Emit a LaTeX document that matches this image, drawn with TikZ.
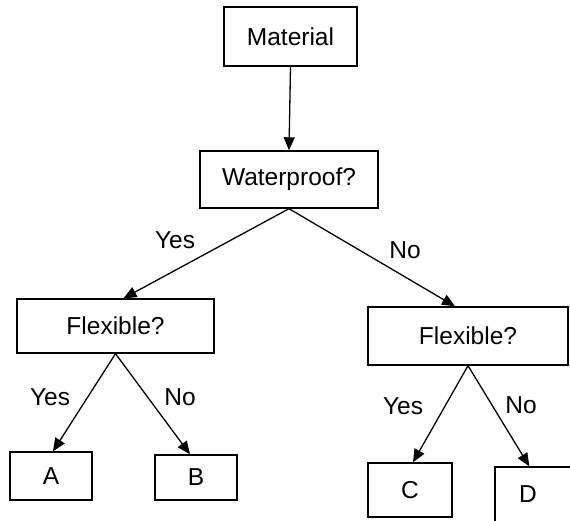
\documentclass[tikz,border=0pt]{standalone}
\usepackage{fontspec}
\setmainfont{Liberation Sans}
\usetikzlibrary{arrows.meta}
\begin{document}
\begin{tikzpicture}[x=1pt,y=-1pt,
  box/.style={draw, line width=1.4pt, rectangle, inner sep=0pt, font=\fontsize{24.5}{28}\selectfont},
  conn/.style={line width=1.3pt, -{Triangle[length=13pt,width=11pt]}},
  lbl/.style={font=\fontsize{24.5}{28}\selectfont, inner sep=0pt}]
\clip (0,0) rectangle (570,521);
\useasboundingbox (0,0) rectangle (570,521);
\fill[white] (0,0) rectangle (570,521);
% boxes
\node[box, minimum width=133pt, minimum height=59pt] (mat) at (290.5,36.5) {Material};
\node[box, minimum width=178pt, minimum height=57pt] (wp) at (289,179.5) {Waterproof?};
\node[box, minimum width=197pt, minimum height=54pt] (fl) at (115.5,326) {Flexible?};
\node[box, minimum width=200pt, minimum height=58pt] (fr) at (468,336) {Flexible?};
\node[box, minimum width=82pt, minimum height=48pt] (A) at (51,476) {A};
\node[box, minimum width=82pt, minimum height=45pt] (B) at (196,477.5) {B};
\node[box, minimum width=84pt, minimum height=54pt] (C) at (410,490) {C};
\node[draw, line width=1.4pt, rectangle, minimum width=110pt, minimum height=100pt, inner sep=0pt] (D) at (550,517) {};
\node[lbl] (Dt) at (528,494) {D};
% connectors
\coordinate (wpo) at ([xshift=0pt]wp.south);
\draw[conn] (mat.south) -- (wp.north);
\draw[conn] (wpo) -- ([xshift=8pt]fl.north);
\draw[conn] (wpo) -- ([xshift=-13pt]fr.north);
\draw[conn] (fl.south) -- ([xshift=2pt]A.north);
\draw[conn] (fl.south) -- ([xshift=-6pt]B.north);
\draw[conn] (fr.south) -- ([xshift=3pt]C.north);
\draw[conn] (fr.south) -- ([xshift=35pt]D.north west);
% labels
\node[lbl] (y1) at (175,240) {Yes};
\node[lbl] (n1) at (405,250) {No};
\node[lbl] (y2) at (50,397) {Yes};
\node[lbl] (n2) at (180,397) {No};
\node[lbl] (y3) at (403,406) {Yes};
\node[lbl] (n3) at (521,405) {No};
\end{tikzpicture}
\end{document}
